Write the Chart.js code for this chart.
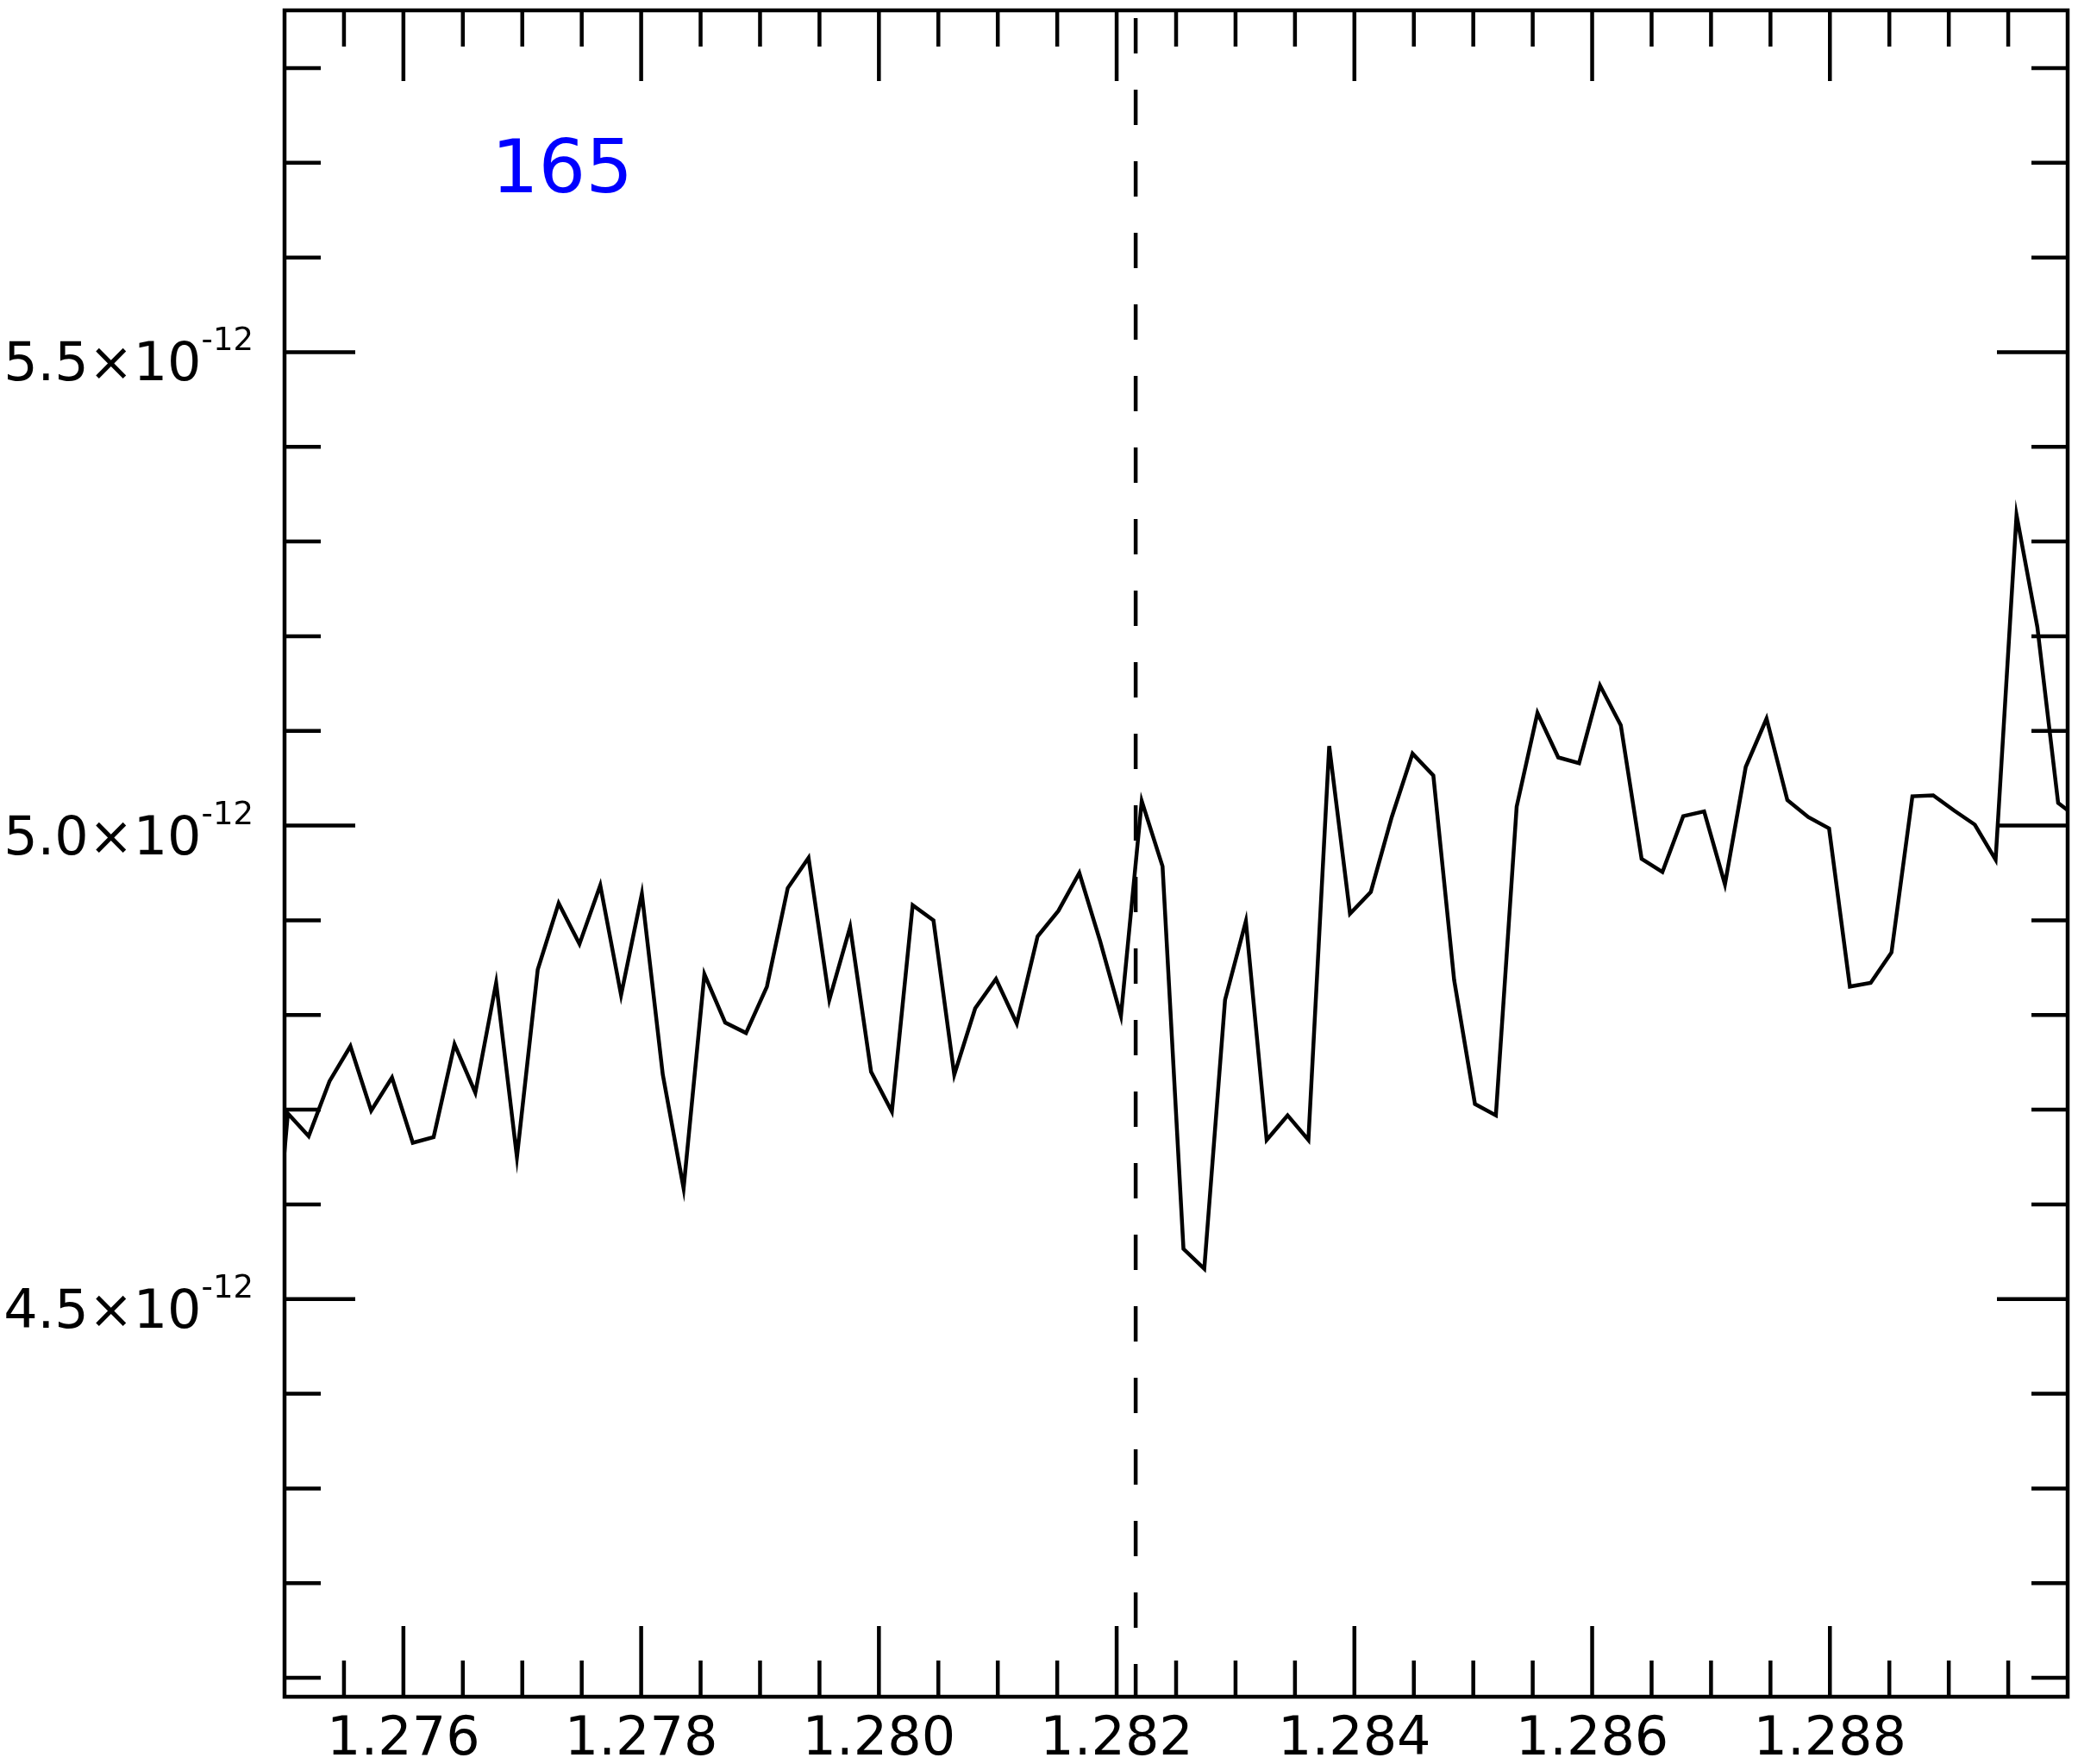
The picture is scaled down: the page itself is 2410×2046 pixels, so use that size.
<!DOCTYPE html>
<html>
<head>
<meta charset="utf-8">
<title>165</title>
<script src="https://cdn.jsdelivr.net/npm/chart.js@4.4.1/dist/chart.umd.min.js"></script>
<style>
  html, body { margin: 0; padding: 0; background: #fff; }
  canvas { display: block; }
</style>
</head>
<body>
<canvas id="spectrum" width="2410" height="2046"></canvas>
<script>
// wavelength (x) and flux (y)
const wavelength = [
  1.274853, 1.275028, 1.275203, 1.275378, 1.275554, 1.275729, 1.275904, 1.276079, 1.276254, 1.276430,
  1.276605, 1.276780, 1.276955, 1.277130, 1.277306, 1.277481, 1.277656, 1.277831, 1.278006, 1.278182,
  1.278357, 1.278532, 1.278707, 1.278882, 1.279058, 1.279233, 1.279408, 1.279583, 1.279758, 1.279934,
  1.280109, 1.280284, 1.280459, 1.280634, 1.280810, 1.280985, 1.281160, 1.281335, 1.281510, 1.281686,
  1.281861, 1.282036, 1.282211, 1.282386, 1.282562, 1.282737, 1.282912, 1.283087, 1.283262, 1.283438,
  1.283613, 1.283788, 1.283963, 1.284138, 1.284314, 1.284489, 1.284664, 1.284839, 1.285014, 1.285190,
  1.285365, 1.285540, 1.285715, 1.285890, 1.286066, 1.286241, 1.286416, 1.286591, 1.286766, 1.286942,
  1.287117, 1.287292, 1.287467, 1.287642, 1.287818, 1.287993, 1.288168, 1.288343, 1.288518, 1.288694,
  1.288869, 1.289044, 1.289219, 1.289394, 1.289570, 1.289745, 1.289920, 1.290095
];

const flux = [
  4.450e-12, 4.696e-12, 4.672e-12, 4.730e-12, 4.767e-12, 4.699e-12, 4.734e-12, 4.665e-12, 4.671e-12, 4.769e-12,
  4.718e-12, 4.834e-12, 4.650e-12, 4.848e-12, 4.918e-12, 4.875e-12, 4.937e-12, 4.821e-12, 4.928e-12, 4.737e-12,
  4.617e-12, 4.843e-12, 4.792e-12, 4.781e-12, 4.830e-12, 4.934e-12, 4.966e-12, 4.816e-12, 4.893e-12, 4.740e-12,
  4.698e-12, 4.916e-12, 4.900e-12, 4.737e-12, 4.807e-12, 4.838e-12, 4.791e-12, 4.883e-12, 4.910e-12, 4.950e-12,
  4.878e-12, 4.799e-12, 5.026e-12, 4.957e-12, 4.553e-12, 4.532e-12, 4.816e-12, 4.899e-12, 4.668e-12, 4.694e-12,
  4.668e-12, 5.084e-12, 4.907e-12, 4.930e-12, 5.009e-12, 5.076e-12, 5.053e-12, 4.837e-12, 4.706e-12, 4.694e-12,
  5.020e-12, 5.119e-12, 5.072e-12, 5.066e-12, 5.148e-12, 5.106e-12, 4.965e-12, 4.951e-12, 5.010e-12, 5.015e-12,
  4.938e-12, 5.062e-12, 5.113e-12, 5.027e-12, 5.009e-12, 4.997e-12, 4.830e-12, 4.834e-12, 4.866e-12, 5.031e-12,
  5.032e-12, 5.016e-12, 5.001e-12, 4.964e-12, 5.328e-12, 5.210e-12, 5.024e-12, 5.007e-12
];

const xTickLabels = [1.276, 1.278, 1.280, 1.282, 1.284, 1.286, 1.288];
const yTickLabels = [4.5e-12, 5.0e-12, 5.5e-12];
const xMin = 1.275, xMax = 1.290;
const yMin = 4.080e-12, yMax = 5.861e-12;
const markerWavelength = 1.28216;
const panelLabel = '165';
const panelLabelAt = { x: 1.27674, y: 5.669e-12 };

const FONT = '"DejaVu Sans", "Liberation Sans", sans-serif';
const LW = 4.5;

// minor tick positions
const xMinor = [];
for (let k = 0; k <= 28; k++) xMinor.push(1.2755 + k * 0.0005);
const yMinor = [];
for (let k = 41; k <= 58; k++) yMinor.push(k * 0.1e-12);

const framePlugin = {
  id: 'frame',
  afterDatasetsDraw(chart) {
    const { ctx, chartArea: a, scales: { x, y } } = chart;
    ctx.save();
    ctx.strokeStyle = '#000';
    ctx.lineWidth = LW;
    ctx.lineCap = 'butt';
    ctx.beginPath();
    xMinor.forEach(v => {
      const p = x.getPixelForValue(v);
      ctx.moveTo(p, a.bottom); ctx.lineTo(p, a.bottom - 42);
      ctx.moveTo(p, a.top); ctx.lineTo(p, a.top + 42);
    });
    xTickLabels.forEach(v => {
      const p = x.getPixelForValue(v);
      ctx.moveTo(p, a.bottom); ctx.lineTo(p, a.bottom - 82);
      ctx.moveTo(p, a.top); ctx.lineTo(p, a.top + 82);
    });
    yMinor.forEach(v => {
      const p = y.getPixelForValue(v);
      ctx.moveTo(a.left, p); ctx.lineTo(a.left + 42, p);
      ctx.moveTo(a.right, p); ctx.lineTo(a.right - 42, p);
    });
    yTickLabels.forEach(v => {
      const p = y.getPixelForValue(v);
      ctx.moveTo(a.left, p); ctx.lineTo(a.left + 82, p);
      ctx.moveTo(a.right, p); ctx.lineTo(a.right - 82, p);
    });
    ctx.stroke();
    ctx.strokeRect(a.left, a.top, a.right - a.left, a.bottom - a.top);

    // tick labels
    ctx.fillStyle = '#000';
    ctx.textBaseline = 'alphabetic';
    ctx.font = '62px ' + FONT;
    ctx.textAlign = 'center';
    xTickLabels.forEach(v => {
      ctx.fillText(v.toFixed(3), x.getPixelForValue(v), a.bottom + 67);
    });

    ctx.textAlign = 'left';
    yTickLabels.forEach(v => {
      const p = y.getPixelForValue(v);
      const main = (v * 1e12).toFixed(1) + '\u00d710';
      const sup = '-12';
      ctx.font = '37px ' + FONT;
      const supW = ctx.measureText(sup).width;
      const supX = a.left - 36 - supW;
      ctx.fillText(sup, supX, p - 2);
      ctx.font = '62px ' + FONT;
      const mainW = ctx.measureText(main).width;
      ctx.fillText(main, supX - mainW, p + 33);
    });

    // panel number
    ctx.fillStyle = '#0000ff';
    ctx.font = '86px ' + FONT;
    ctx.fillText(panelLabel, x.getPixelForValue(panelLabelAt.x), y.getPixelForValue(panelLabelAt.y));
    ctx.restore();
  }
};

const ctx = document.getElementById('spectrum').getContext('2d');

const spectrumChart = new Chart(ctx, {
  type: 'line',
  data: {
    datasets: [
      {
        data: wavelength.map((w, i) => ({ x: w, y: flux[i] })),
        borderColor: '#000',
        borderWidth: LW,
        tension: 0,
        pointRadius: 0,
        borderJoinStyle: 'miter',
        fill: false
      },
      {
        data: [{ x: markerWavelength, y: yMax }, { x: markerWavelength, y: yMin }],
        borderColor: '#000',
        borderWidth: LW,
        borderDash: [41, 42],
        borderDashOffset: 74,
        pointRadius: 0,
        fill: false
      }
    ]
  },
  options: {
    responsive: false,
    animation: false,
    devicePixelRatio: 1,
    parsing: false,
    layout: { padding: { left: 330, top: 12, right: 12, bottom: 78 } },
    plugins: { legend: { display: false }, tooltip: { enabled: false } },
    scales: {
      x: { type: 'linear', display: false, min: xMin, max: xMax },
      y: { type: 'linear', display: false, min: yMin, max: yMax }
    }
  },
  plugins: [framePlugin]
});
</script>
</body>
</html>
